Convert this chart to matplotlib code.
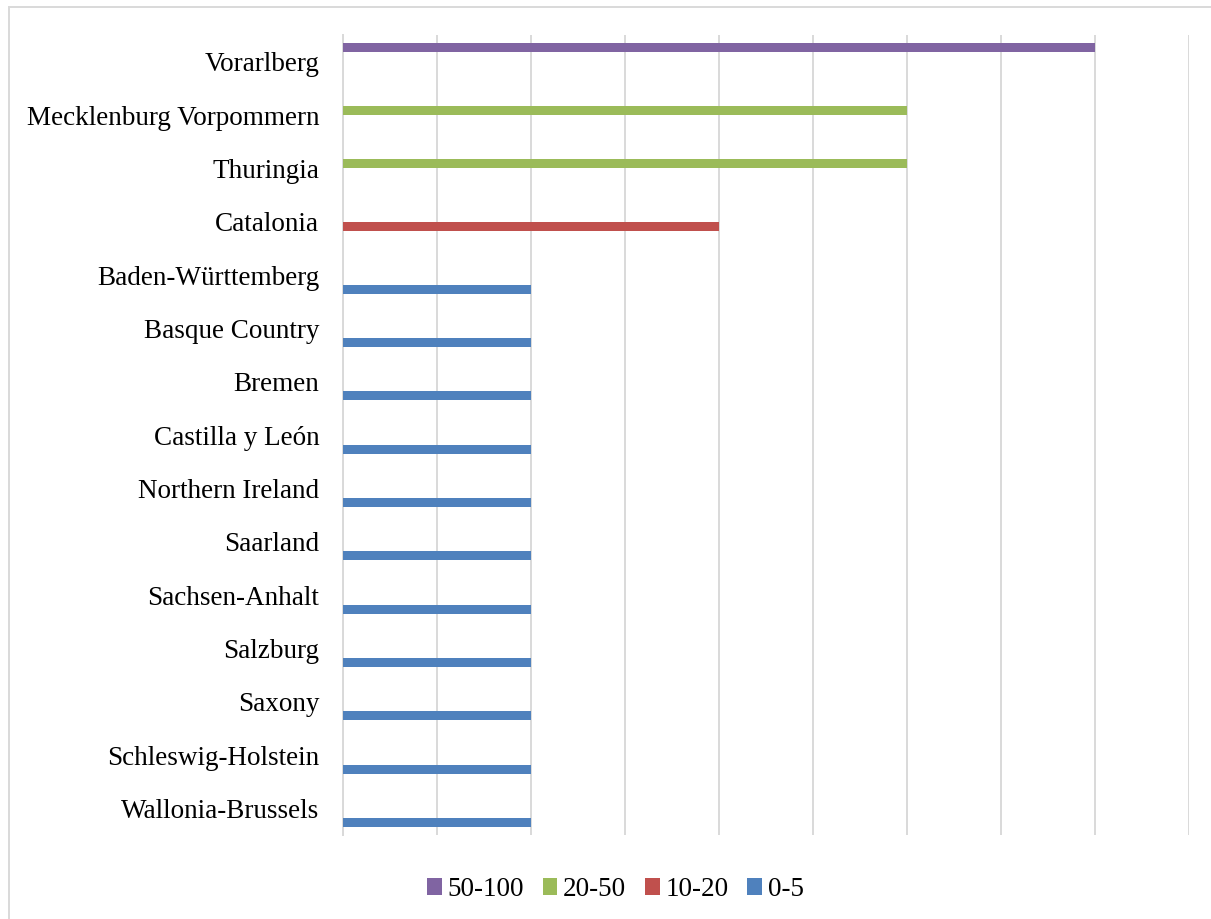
import numpy as np
import matplotlib.pyplot as plt
from matplotlib.patches import Rectangle

regions = ["Vorarlberg", "Mecklenburg Vorpommern", "Thuringia", "Catalonia",
           "Baden-Württemberg", "Basque Country", "Bremen", "Castilla y León",
           "Northern Ireland", "Saarland", "Sachsen-Anhalt", "Salzburg",
           "Saxony", "Schleswig-Holstein", "Wallonia-Brussels"]

series_names = ["50-100", "20-50", "10-20", "0-5"]
series_colors = ["#8064A2", "#9BBB59", "#C0504D", "#4F81BD"]

# one value per region for each band, zero where the region is not in it
s_50_100 = [8, 0, 0, 0, 0, 0, 0, 0, 0, 0, 0, 0, 0, 0, 0]
s_20_50 = [0, 6, 6, 0, 0, 0, 0, 0, 0, 0, 0, 0, 0, 0, 0]
s_10_20 = [0, 0, 0, 4, 0, 0, 0, 0, 0, 0, 0, 0, 0, 0, 0]
s_0_5 = [0, 0, 0, 0, 2, 2, 2, 2, 2, 2, 2, 2, 2, 2, 2]
series = [s_50_100, s_20_50, s_10_20, s_0_5]

plt.rcParams['font.family'] = ['Liberation Serif', 'DejaVu Serif']

fig = plt.figure(figsize=(12.11, 9.19), dpi=100)
ax = fig.add_axes([0.2832, 0.0914, 0.6986, 0.8705])

y = np.arange(len(regions))
step = 0.176
offsets = (np.arange(len(series)) - 1.5) * step

for vals, name, col, off in zip(series, series_names, series_colors, offsets):
    ax.barh(y + off, vals, height=0.17, color=col, label=name, zorder=3)

ax.set_ylim(len(regions) - 0.5, -0.5)
ax.set_xlim(0, 9)
ax.set_yticks(y)
ax.set_yticklabels(regions, fontsize=19.5)
ax.set_xticks(np.arange(0, 10))
ax.tick_params(axis='x', length=0, labelbottom=False)
ax.tick_params(axis='y', length=0, pad=17)
ax.grid(axis='x', color='#D9D9D9', linewidth=1.4, zorder=0)

for side in ['top', 'right', 'bottom']:
    ax.spines[side].set_visible(False)
ax.spines['left'].set_color('#D9D9D9')
ax.spines['left'].set_linewidth(1.4)

fig.legend(loc='center', bbox_to_anchor=(0.508, 0.032), ncol=4, frameon=False,
           fontsize=19.5, handlelength=0.55, handleheight=0.55, handletextpad=0.2,
           columnspacing=0.7)

# chart frame
fig.patches.append(Rectangle((0.0075, -0.01), 1.0, 1.0024, transform=fig.transFigure,
                             fill=False, edgecolor='#D9D9D9', linewidth=1.4))

fig.savefig('out.png', dpi=100)
